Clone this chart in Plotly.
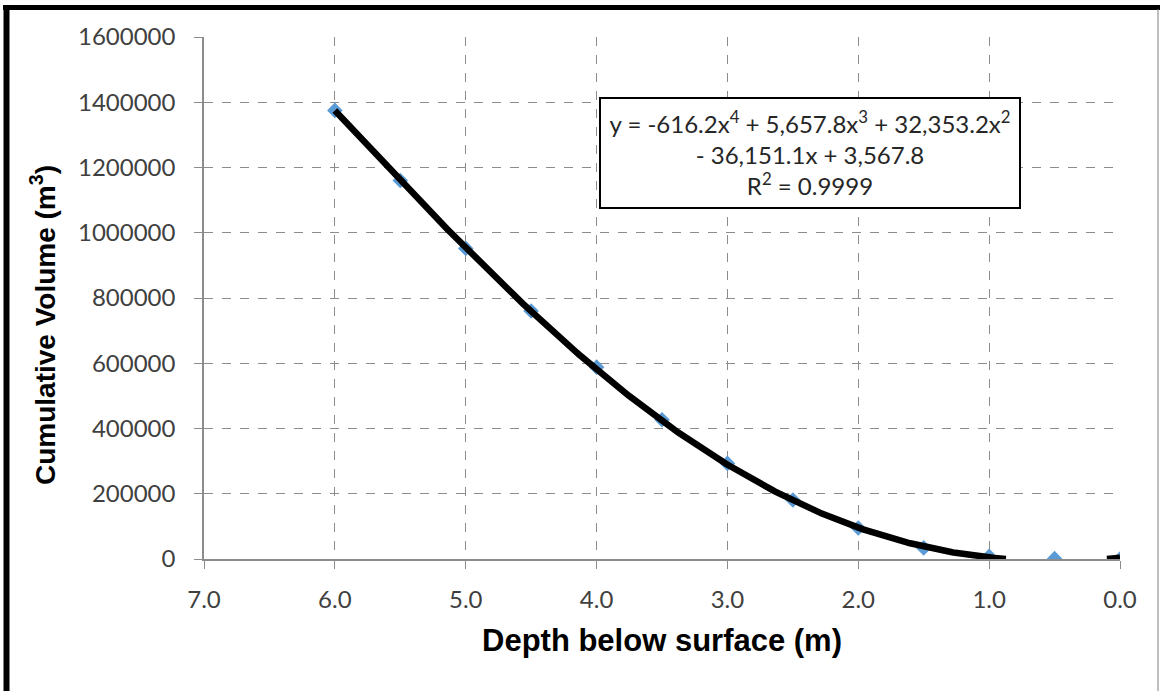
import numpy as np
import plotly.graph_objects as go

depth = [6.0, 5.5, 5.0, 4.5, 4.0, 3.5, 3.0, 2.5, 2.0, 1.5, 1.0, 0.5, 0.0]
volume = [1375000, 1160000, 952000, 760000, 588000, 427000, 293000, 181000, 95000, 34000, 8000, 1000, 0]
# trendline coefficients shown in the chart (x^4, x^3, x^2, x, const)
coef = [-616.2, 5657.8, 32353.2, -36151.1, 3567.8]
xticks = [7.0, 6.0, 5.0, 4.0, 3.0, 2.0, 1.0, 0.0]
yticks = [0, 200000, 400000, 600000, 800000, 1000000, 1200000, 1400000, 1600000]

W, H = 1161, 691
L, R, T, B = 204, 41, 37, 132
pw, ph = W - L - R, H - T - B

xt = np.linspace(max(depth), min(depth), 600)
yt = np.polyval(coef, xt)
# the trendline is not drawn where it falls below the axis minimum
yt = np.where(yt >= 0, yt, np.nan)

fig = go.Figure()
fig.add_trace(go.Scatter(x=depth, y=volume, mode="markers",
                         marker=dict(symbol="diamond", size=12, color="#5B9BD5"),
                         showlegend=False))
fig.add_trace(go.Scatter(x=xt, y=yt, mode="lines",
                         line=dict(color="black", width=6.5),
                         connectgaps=False, showlegend=False))

tickfont = dict(family="Lato, Open Sans, sans-serif", size=24, color="#404040")
grid = dict(showgrid=True, gridcolor="#8c8c8c", griddash="dash", gridwidth=1,
            showline=True, linecolor="#8c8c8c", linewidth=1.5,
            ticks="outside", ticklen=8, tickcolor="#8c8c8c", tickfont=tickfont,
            zeroline=False)

fig.update_xaxes(range=[7, 0], tickvals=xticks, ticktext=[f"{v:.1f}" for v in xticks],
                 ticklabelstandoff=10, **grid)
fig.update_yaxes(range=[0, 1600000], tickvals=yticks, ticktext=[str(v) for v in yticks],
                 ticklabelstandoff=14, **grid)

def px(x):
    return (x - L) / pw

def py(y):
    return 1 - (y - T) / ph

shapes = [
    dict(type="line", xref="paper", yref="paper", x0=px(3), x1=px(1160), y0=py(7.5), y1=py(7.5),
         line=dict(color="black", width=5)),
    dict(type="line", xref="paper", yref="paper", x0=px(6.5), x1=px(6.5), y0=py(5), y1=py(700),
         line=dict(color="black", width=6)),
    dict(type="line", xref="paper", yref="paper", x0=px(1158), x1=px(1158), y0=py(9), y1=py(700),
         line=dict(color="#7f7f7f", width=1)),
]

annotations = [
    dict(xref="paper", yref="paper", x=px(810), y=py(153), xanchor="center", yanchor="middle",
         text="y = -616.2x<sup>4</sup> + 5,657.8x<sup>3</sup> + 32,353.2x<sup>2</sup><br>- 36,151.1x + 3,567.8<br>R<sup>2</sup> = 0.9999",
         showarrow=False, align="center", bgcolor="white", bordercolor="black", borderwidth=2,
         width=416, height=106, font=dict(family="Lato, Open Sans, sans-serif", size=24, color="#262626")),
    dict(xref="paper", yref="paper", x=px(662), y=py(640), xanchor="center", yanchor="middle",
         text="<b>Depth below surface (m)</b>", showarrow=False,
         font=dict(family="Liberation Sans, Arial, sans-serif", size=31, color="black")),
    dict(xref="paper", yref="paper", x=px(43), y=py(325), xanchor="center", yanchor="middle",
         text="<b>Cumulative Volume (m<sup>3</sup>)</b>", showarrow=False, textangle=-90,
         font=dict(family="Liberation Sans, Arial, sans-serif", size=28, color="black")),
]

fig.update_layout(width=W, height=H, margin=dict(l=L, r=R, t=T, b=B, autoexpand=False),
                  plot_bgcolor="white", paper_bgcolor="white",
                  shapes=shapes, annotations=annotations)

fig.write_html("out.html", config={"displayModeBar": False},
               post_script="document.body.style.margin='0';")
